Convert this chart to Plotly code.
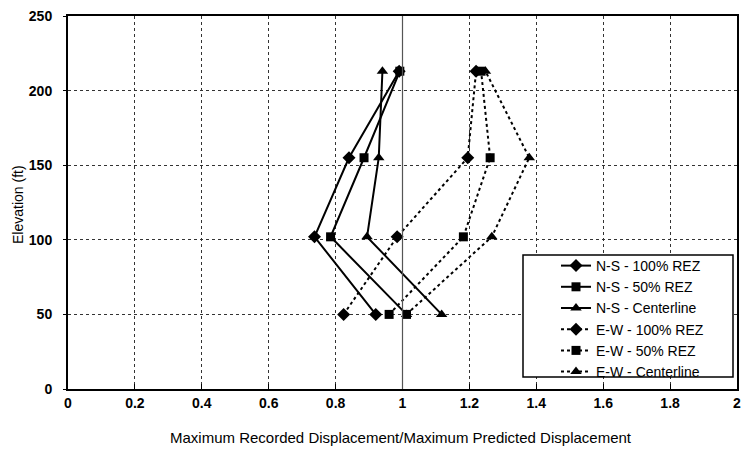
import plotly.graph_objects as go

elev = [50, 102, 155, 213]

ns_100 = [0.92, 0.737, 0.84, 0.99]
ns_50 = [1.012, 0.785, 0.885, 0.992]
ns_cl = [1.117, 0.894, 0.929, 0.94]
ew_100 = [0.824, 0.984, 1.195, 1.22]
ew_50 = [0.96, 1.182, 1.262, 1.235]
ew_cl = [1.012, 1.267, 1.379, 1.248]

series = [
    ("N-S - 100% REZ", ns_100, "solid", "diamond"),
    ("N-S - 50% REZ", ns_50, "solid", "square"),
    ("N-S - Centerline", ns_cl, "solid", "triangle-up"),
    ("E-W - 100% REZ", ew_100, "dot", "diamond"),
    ("E-W - 50% REZ", ew_50, "dot", "square"),
    ("E-W - Centerline", ew_cl, "dot", "triangle-up"),
]

x_ticks = [0, 0.2, 0.4, 0.6, 0.8, 1, 1.2, 1.4, 1.6, 1.8, 2]
x_labels = ["0", "0.2", "0.4", "0.6", "0.8", "1", "1.2", "1.4", "1.6", "1.8", "2"]
y_ticks = [0, 50, 100, 150, 200, 250]

FONT = "Liberation Sans, Arial, sans-serif"

# page body margin is removed (post_script), so the figure fills the window
W, H = 741, 449
L, T = 68, 16
R = W - 737
B = H - 389
PW, PH = W - L - R, H - T - B


def px_x(p):
    return (p - L) / PW


def px_y(p):
    return (H - B - p) / PH


sizes = {"diamond": 10, "square": 9, "triangle-up": 10}

fig = go.Figure()
for name, xs, dash, sym in series:
    fig.add_trace(go.Scatter(
        x=xs, y=elev, name=name, mode="lines+markers",
        line=dict(color="black", width=2, dash=dash),
        marker=dict(symbol=sym, size=sizes[sym], color="black"),
    ))

fig.add_vline(x=1, line=dict(color="#555", width=1.2))

# legend frame
fig.add_shape(type="rect", xref="paper", yref="paper",
              x0=px_x(523), x1=px_x(733), y0=px_y(377), y1=px_y(255),
              line=dict(color="black", width=1.5), fillcolor="white", layer="above")

fig.update_layout(
    width=W, height=H,
    margin=dict(l=L, r=R, t=T, b=B),
    paper_bgcolor="white", plot_bgcolor="white",
    font=dict(family=FONT, size=14, color="black"),
    showlegend=True,
    legend=dict(
        x=px_x(556), y=px_y(250), xanchor="left", yanchor="top",
        borderwidth=0, bgcolor="rgba(0,0,0,0)",
        font=dict(size=14, family=FONT), tracegroupgap=0,
    ),
    xaxis=dict(
        range=[0, 2], tickvals=x_ticks, ticktext=x_labels,
        showgrid=True, gridcolor="#333", griddash="3px,3px", gridwidth=1,
        showline=True, linecolor="black", linewidth=2, mirror=True,
        ticks="inside", ticklen=5, tickcolor="black", zeroline=False,
        tickfont=dict(size=14, family=FONT, weight="bold"),
        automargin=False, ticklabeloverflow="allow",
    ),
    yaxis=dict(
        range=[0, 250], tickvals=y_ticks,
        showgrid=True, gridcolor="#333", griddash="3px,3px", gridwidth=1,
        showline=True, linecolor="black", linewidth=2, mirror=True,
        ticks="outside", ticklen=3, tickcolor="black", zeroline=False,
        tickfont=dict(size=14, family=FONT, weight="bold"),
        ticklabelstandoff=8,
        automargin=False, ticklabeloverflow="allow",
    ),
    annotations=[
        dict(text="Maximum Recorded Displacement/Maximum Predicted Displacement",
             xref="paper", yref="paper", x=px_x(401), y=px_y(437),
             xanchor="center", yanchor="middle", showarrow=False,
             font=dict(size=15, family=FONT)),
        dict(text="Elevation (ft)", textangle=-90,
             xref="paper", yref="paper", x=px_x(18), y=px_y(205),
             xanchor="center", yanchor="middle", showarrow=False,
             font=dict(size=14, family=FONT)),
    ],
)

fig.write_html(
    "out.html",
    config={"displayModeBar": False},
    post_script="document.body.style.margin='0';document.body.style.overflow='hidden';",
)
